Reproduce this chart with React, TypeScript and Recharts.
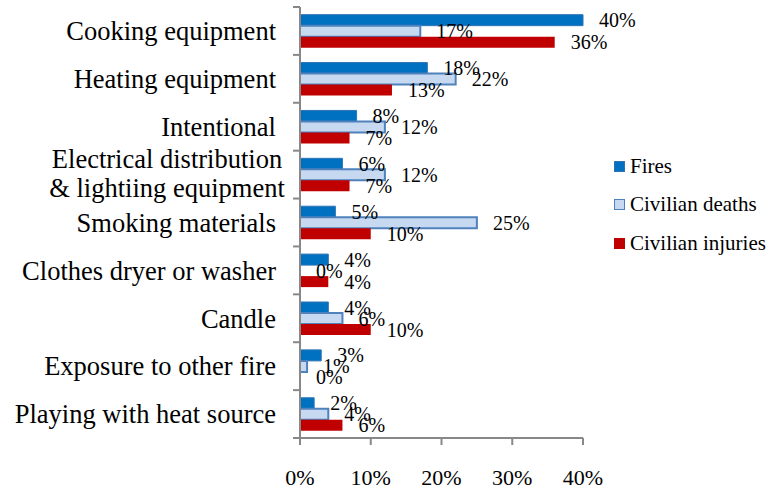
import { BarChart, Bar, XAxis, YAxis, LabelList } from "recharts";

const causes = [
  "Cooking equipment",
  "Heating equipment",
  "Intentional",
  "Electrical distribution\n& lightiing equipment",
  "Smoking materials",
  "Clothes dryer or washer",
  "Candle",
  "Exposure to other fire",
  "Playing with heat source",
];

const fires = [40, 18, 8, 6, 5, 4, 4, 3, 2];
const civilianDeaths = [17, 22, 12, 12, 25, 0, 6, 1, 4];
const civilianInjuries = [36, 13, 7, 7, 10, 4, 10, 0, 6];

const xTicks = [0, 10, 20, 30, 40];

const seriesNames = ["Fires", "Civilian deaths", "Civilian injuries"];

const data = causes.map((name, i) => ({
  name,
  fires: fires[i],
  deaths: civilianDeaths[i],
  injuries: civilianInjuries[i],
}));

const font = "'Liberation Serif', 'Times New Roman', serif";
const axisColor = "#888888";

function CauseTick(props: any) {
  const { x, y, payload, index, height } = props;
  const axisX = x + 24;
  const band = (height || 431) / causes.length;
  const lines = String(payload.value).split("\n");
  return (
    <g>
      <line x1={axisX - 7} x2={axisX} y1={y - band / 2} y2={y - band / 2} stroke={axisColor} strokeWidth={2} />
      {index === causes.length - 1 && (
        <line x1={axisX - 7} x2={axisX} y1={y + band / 2} y2={y + band / 2} stroke={axisColor} strokeWidth={2} />
      )}
      {lines.length === 1 ? (
        <text x={x} y={y} dy="0.35em" textAnchor="end" fontSize={26.5} fontFamily={font} fill="#000">
          {lines[0]}
        </text>
      ) : (
        <text x={x - 109} y={y} textAnchor="middle" fontSize={26.5} fontFamily={font} fill="#000">
          <tspan x={x - 109} dy="-0.25em">{lines[0]}</tspan>
          <tspan x={x - 109} dy="1.1em">{lines[1]}</tspan>
        </text>
      )}
    </g>
  );
}

const legendSwatches = [
  { fill: "#0070C0", stroke: "#2E75B6" },
  { fill: "#C6D9F1", stroke: "#4F81BD" },
  { fill: "#C00000", stroke: "#C00000" },
];

const labelStyle = { fontSize: 20, fontFamily: font, fill: "#000" };
const pct = (v: any) => `${v}%`;

export default function App() {
  return (
    <div style={{ position: "absolute", left: 0, top: 0, width: 783, height: 489, background: "#fff", fontFamily: font }}>
      <BarChart
        width={783}
        height={489}
        data={data}
        layout="vertical"
        margin={{ top: 7, right: 200, bottom: 0, left: 0 }}
        barCategoryGap="16%"
        barGap={0}
      >
        <XAxis
          type="number"
          domain={[0, 40]}
          ticks={xTicks}
          tickFormatter={(v: number) => `${v}%`}
          height={51}
          stroke={axisColor}
          strokeWidth={2}
          tickSize={7}
          tickMargin={24}
          tick={{ fontSize: 22, fontFamily: font, fill: "#000" }}
        />
        <YAxis
          type="category"
          dataKey="name"
          width={300}
          stroke={axisColor}
          strokeWidth={2}
          tickLine={false}
          tickSize={0}
          tickMargin={24}
          interval={0}
          tick={<CauseTick />}
        />
        <Bar dataKey="fires" fill="#0070C0" stroke="#2E75B6" strokeWidth={1} minPointSize={0.01} isAnimationActive={false}>
          <LabelList dataKey="fires" position="right" offset={16} formatter={pct} style={labelStyle} />
        </Bar>
        <Bar dataKey="deaths" fill="#C6D9F1" stroke="#4F81BD" strokeWidth={2} minPointSize={0.01} isAnimationActive={false}>
          <LabelList dataKey="deaths" position="right" offset={16} formatter={pct} style={labelStyle} />
        </Bar>
        <Bar dataKey="injuries" fill="#C00000" minPointSize={0.01} isAnimationActive={false}>
          <LabelList dataKey="injuries" position="right" offset={16} formatter={pct} style={labelStyle} />
        </Bar>
      </BarChart>
      <div style={{ position: "absolute", left: 614, top: 147 }}>
        {seriesNames.map((s, i) => (
          <div key={s} style={{ display: "flex", alignItems: "center", height: 38.5, fontSize: 21, color: "#000" }}>
            <span
              style={{
                display: "inline-block",
                width: 9,
                height: 9,
                background: legendSwatches[i].fill,
                border: `1.5px solid ${legendSwatches[i].stroke}`,
                marginRight: 5,
              }}
            />
            {s}
          </div>
        ))}
      </div>
    </div>
  );
}
